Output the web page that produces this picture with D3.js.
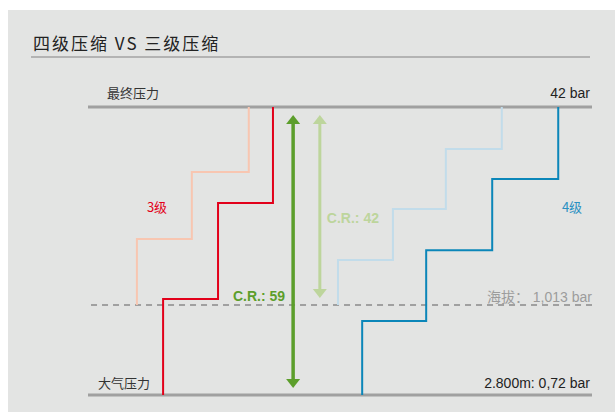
<!DOCTYPE html>
<html><head><meta charset="utf-8">
<script src="https://cdn.jsdelivr.net/npm/d3@7/dist/d3.min.js"></script>
<style>
html,body{margin:0;padding:0;background:#fff;}
svg{display:block;}
</style></head>
<body>
<svg id="chart" width="615" height="412"></svg>
<script>
// ---- data (schematic height index: 0 = ambient at 2.800m, 100 = final pressure) ----
const title = "四级压缩 VS 三级压缩";
const levelNames = ["最终压力", "大气压力"];
const levelLabels = ["42 bar", "海拔： 1,013 bar", "2.800m: 0,72 bar"];
const levelValues = [100, 31.25, 0];

// step positions along x (0..100) and pressure levels per stage
const stage3X = [14.9, 25.8, 36.7];
const stage3Y = [0, 33.3, 66.7, 100];
const stage3SeaX = [9.7, 20.6, 31.9];
const stage3SeaY = [31.25, 54.2, 77.4, 100];
const stage4X = [54.4, 67.1, 80.2, 93.3];
const stage4Y = [0, 25.7, 50.3, 75, 100];
const stage4SeaX = [49.6, 60.5, 71.0, 82.1];
const stage4SeaY = [31.25, 46.9, 64.6, 85.4, 100];

const ratioLabels = ["C.R.: 59", "C.R.: 42"];
const ratioX = [40.7, 46.0];
const ratioFrom = [0, 31.25];
const ratioTo = [100, 100];
const seriesLabels = ["3级", "4级"];

// ---- drawing ----
const svg = d3.select("#chart");
svg.append("rect").attr("x", 8).attr("y", 10).attr("width", 607).attr("height", 402).attr("fill", "#e3e4e3");

const cjk = "'Noto Sans CJK SC','Liberation Sans',sans-serif";
const latin = "'Liberation Sans','Noto Sans CJK SC',sans-serif";

svg.append("text").attr("x", 33).attr("y", 50).text(title)
  .attr("font-family", cjk).attr("font-size", 17).attr("letter-spacing", 2).attr("fill", "#222");
svg.append("line").attr("x1", 31).attr("x2", 590).attr("y1", 57).attr("y2", 57)
  .attr("stroke", "#a3a3a3").attr("stroke-width", 1.5);

const x = d3.scaleLinear().domain([0, 100]).range([88, 592]);
const y = d3.scaleLinear().domain([0, 100]).range([395, 107]);

// level lines
svg.append("line").attr("x1", x(0)).attr("x2", x(100)).attr("y1", y(levelValues[0])).attr("y2", y(levelValues[0]))
  .attr("stroke", "#a0a0a0").attr("stroke-width", 3);
svg.append("line").attr("x1", x(0)).attr("x2", x(100)).attr("y1", y(levelValues[2])).attr("y2", y(levelValues[2]))
  .attr("stroke", "#a0a0a0").attr("stroke-width", 3);
svg.append("line").attr("x1", x(0.6)).attr("x2", x(100)).attr("y1", y(levelValues[1])).attr("y2", y(levelValues[1]))
  .attr("stroke", "#a0a0a0").attr("stroke-width", 2).attr("stroke-dasharray", "6,5");

function stepPoints(xs, ys) {
  const pts = [[xs[0], ys[0]]];
  xs.forEach((xv, i) => {
    pts.push([xv, ys[i + 1]]);
    if (i + 1 < xs.length) pts.push([xs[i + 1], ys[i + 1]]);
  });
  return pts;
}
const line = d3.line().x(d => x(d[0])).y(d => y(d[1]));
const steps = [
  {xs: stage3SeaX, ys: stage3SeaY, color: "#f8c6b1", w: 2},
  {xs: stage4SeaX, ys: stage4SeaY, color: "#c2dcea", w: 2},
  {xs: stage3X, ys: stage3Y, color: "#e2001a", w: 2},
  {xs: stage4X, ys: stage4Y, color: "#0b86b9", w: 2}
];
steps.forEach(s => {
  svg.append("path").attr("d", line(stepPoints(s.xs, s.ys)))
    .attr("fill", "none").attr("stroke", s.color).attr("stroke-width", s.w).attr("stroke-linejoin", "miter");
});

// arrows
const arrowColors = ["#5c9e2b", "#bdd59c"];
const arrowWidths = [3.5, 3];
ratioX.forEach((xv, i) => {
  const cx = x(xv);
  const top = y(ratioTo[i]) + 8;
  const bot = y(ratioFrom[i]) - 7;
  const hw = 7, hh = 9;
  svg.append("line").attr("x1", cx).attr("x2", cx).attr("y1", top + hh - 1).attr("y2", bot - hh + 1)
    .attr("stroke", arrowColors[i]).attr("stroke-width", arrowWidths[i]);
  svg.append("path").attr("d", `M${cx},${top}L${cx + hw},${top + hh}L${cx - hw},${top + hh}Z`).attr("fill", arrowColors[i]);
  svg.append("path").attr("d", `M${cx},${bot}L${cx + hw},${bot - hh}L${cx - hw},${bot - hh}Z`).attr("fill", arrowColors[i]);
});
svg.append("text").attr("x", x(ratioX[0]) - 8).attr("y", 301).attr("text-anchor", "end").text(ratioLabels[0])
  .attr("font-family", latin).attr("font-weight", "bold").attr("font-size", 14).attr("fill", arrowColors[0]);
svg.append("text").attr("x", x(ratioX[1]) + 7).attr("y", 223).text(ratioLabels[1])
  .attr("font-family", latin).attr("font-weight", "bold").attr("font-size", 14).attr("fill", arrowColors[1]);

// series labels
svg.append("text").attr("x", 157).attr("y", 212).attr("text-anchor", "middle").text(seriesLabels[0])
  .attr("font-family", cjk).attr("font-size", 13).attr("fill", "#e2001a");
svg.append("text").attr("x", 572).attr("y", 212).attr("text-anchor", "middle").text(seriesLabels[1])
  .attr("font-family", cjk).attr("font-size", 13).attr("fill", "#2a90c2");

// level labels
svg.append("text").attr("x", 107).attr("y", 98).text(levelNames[0])
  .attr("font-family", cjk).attr("font-size", 13).attr("fill", "#333");
svg.append("text").attr("x", 98).attr("y", 388).text(levelNames[1])
  .attr("font-family", cjk).attr("font-size", 13).attr("fill", "#333");
svg.append("text").attr("x", 590).attr("y", 98).attr("text-anchor", "end").text(levelLabels[0])
  .attr("font-family", latin).attr("font-size", 14).attr("fill", "#222");
svg.append("text").attr("x", 592).attr("y", 302).attr("text-anchor", "end").text(levelLabels[1])
  .attr("font-family", latin).attr("font-size", 14).attr("fill", "#9c9c9c");
svg.append("text").attr("x", 590).attr("y", 388).attr("text-anchor", "end").text(levelLabels[2])
  .attr("font-family", latin).attr("font-size", 14).attr("fill", "#222");
</script>
</body></html>
